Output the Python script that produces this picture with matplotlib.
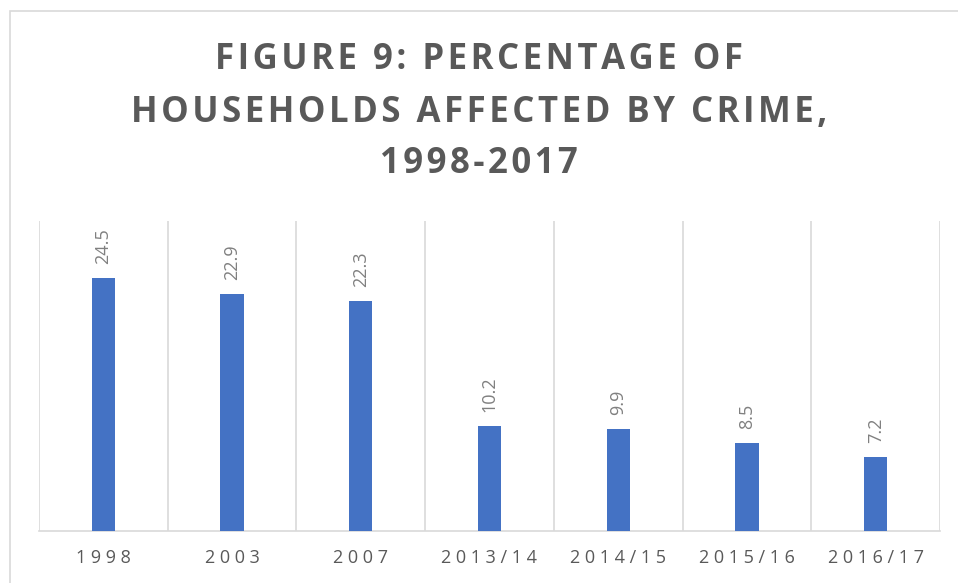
import numpy as np
import matplotlib.pyplot as plt
from matplotlib.patches import Rectangle

# data
periods = ['1998', '2003', '2007', '2013/14', '2014/15', '2015/16', '2016/17']
pct_households = [24.5, 22.9, 22.3, 10.2, 9.9, 8.5, 7.2]

title_lines = ['FIGURE 9: PERCENTAGE OF', 'HOUSEHOLDS AFFECTED BY CRIME,', '1998-2017']

plt.rcParams['font.family'] = ['Open Sans', 'DejaVu Sans']

def spaced(s, sep='\u200a'):
    # fake letter spacing
    return sep.join(s)

W, H = 958, 583
fig = plt.figure(figsize=(W / 100, H / 100), dpi=100)

# chart border (runs off right and bottom)
fig.patches.append(Rectangle((10 / W, -0.1), 1.2, 1 - 11 / H + 0.1,
                             transform=fig.transFigure, fill=False,
                             edgecolor='#d9d9d9', linewidth=1.2))

# title
title_y = [60, 113, 164]
for line, y in zip(title_lines, title_y):
    fig.text(0.5, 1 - y / H, spaced(line), ha='center', va='center',
             fontsize=25, fontweight='bold', color='#595959')

ax = fig.add_axes([39 / W, 1 - 531 / H, (940 - 39) / W, (531 - 221) / H])
x = np.arange(len(periods))
ax.bar(x, pct_households, width=0.18, color='#4472c4', zorder=3)

ax.set_xlim(-0.5, len(periods) - 0.5)
ax.set_ylim(0, 30)

for xv in np.arange(-0.5, len(periods), 1.0):
    ax.axvline(xv, color='#d9d9d9', linewidth=1.2, zorder=1)

for s in ['top', 'left', 'right']:
    ax.spines[s].set_visible(False)
ax.spines['bottom'].set_color('#d9d9d9')
ax.spines['bottom'].set_linewidth(1.2)

ax.set_yticks([])
ax.set_xticks(x)
ax.set_xticklabels([spaced(p, ' ') for p in periods], fontsize=13, color='#595959')
ax.tick_params(axis='x', length=0, pad=13)

for xi, v in zip(x, pct_households):
    ax.annotate(f'{v}', (xi, v), xytext=(0, 10), textcoords='offset points',
                rotation=90, ha='center', va='bottom', fontsize=13,
                color='#808080')

plt.savefig('out.png', dpi=100)
plt.close()
